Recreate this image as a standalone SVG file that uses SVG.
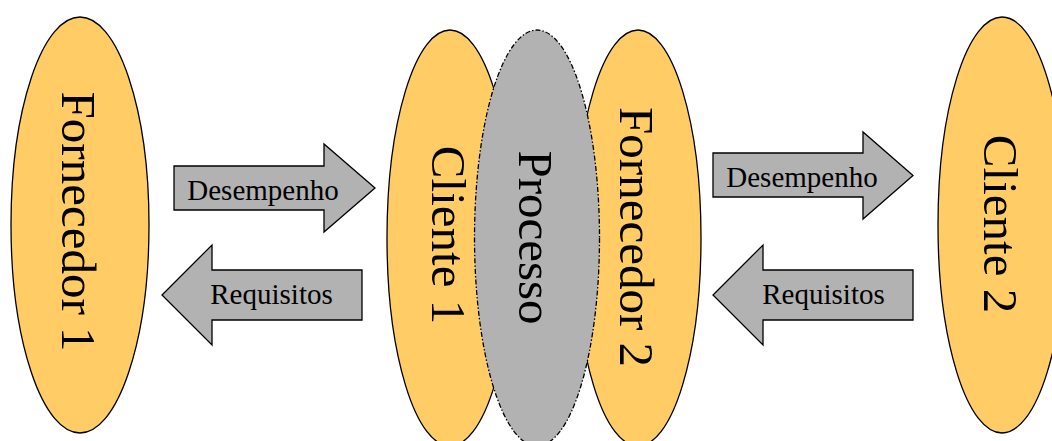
<svg xmlns="http://www.w3.org/2000/svg" width="1052" height="441" viewBox="0 0 1052 441">
  <style>
    .actor { fill: #FFCC66; stroke: #000; stroke-width: 1.3; }
    .process { fill: #B2B2B2; stroke: #000; stroke-width: 1.3; stroke-dasharray: 5 2 1.5 2; }
    .arrow { fill: #B2B2B2; stroke: #000; stroke-width: 1.3; stroke-linejoin: miter; }
    text { font-family: 'Liberation Serif', 'DejaVu Serif', serif; fill: #000; text-anchor: middle; }
    .big { font-size: 49px; }
    .lbl { font-size: 29px; }
  </style>
  <rect width="1052" height="441" fill="#fff"/>

  <g id="fornecedor1">
    <ellipse class="actor" cx="80" cy="225" rx="69" ry="208"/>
    <text class="big" font-family="Liberation Serif" transform="translate(62,221.5) rotate(90)">Fornecedor 1</text>
  </g>

  <g id="cliente1">
    <ellipse class="actor" cx="450" cy="238" rx="63" ry="208"/>
    <text class="big" font-family="Liberation Serif" transform="translate(432,235) rotate(90)">Cliente 1</text>
  </g>

  <g id="fornecedor2">
    <ellipse class="actor" cx="638" cy="238" rx="63" ry="208"/>
    <text class="big" font-family="Liberation Serif" transform="translate(620,237) rotate(90)">Fornecedor 2</text>
  </g>

  <g id="processo">
    <ellipse class="process" cx="537" cy="238" rx="62.5" ry="208"/>
    <text class="big" font-family="Liberation Serif" transform="translate(519,237.5) rotate(90)">Processo</text>
  </g>

  <g id="cliente2">
    <ellipse class="actor" cx="1002" cy="225" rx="64" ry="208"/>
    <text class="big" font-family="Liberation Serif" transform="translate(984,224) rotate(90)">Cliente 2</text>
  </g>

  <g id="connectors">
    <g id="desempenho1">
      <polygon class="arrow" points="174,166 324,166 324,144 375,188 324,232 324,210 174,210"/>
      <text class="lbl" font-family="Liberation Serif" x="263" y="200">Desempenho</text>
    </g>
    <g id="requisitos1">
      <polygon class="arrow" points="362,270 212,270 212,245 162,295 212,345 212,320 362,320"/>
      <text class="lbl" font-family="Liberation Serif" x="271.5" y="304">Requisitos</text>
    </g>
    <g id="desempenho2">
      <polygon class="arrow" points="713,153 863,153 863,132 913,175.5 863,219 863,197 713,197"/>
      <text class="lbl" font-family="Liberation Serif" x="802" y="187">Desempenho</text>
    </g>
    <g id="requisitos2">
      <polygon class="arrow" points="913,270 763,270 763,245 713,295 763,345 763,320 913,320"/>
      <text class="lbl" font-family="Liberation Serif" x="823.5" y="304">Requisitos</text>
    </g>
  </g>
</svg>
